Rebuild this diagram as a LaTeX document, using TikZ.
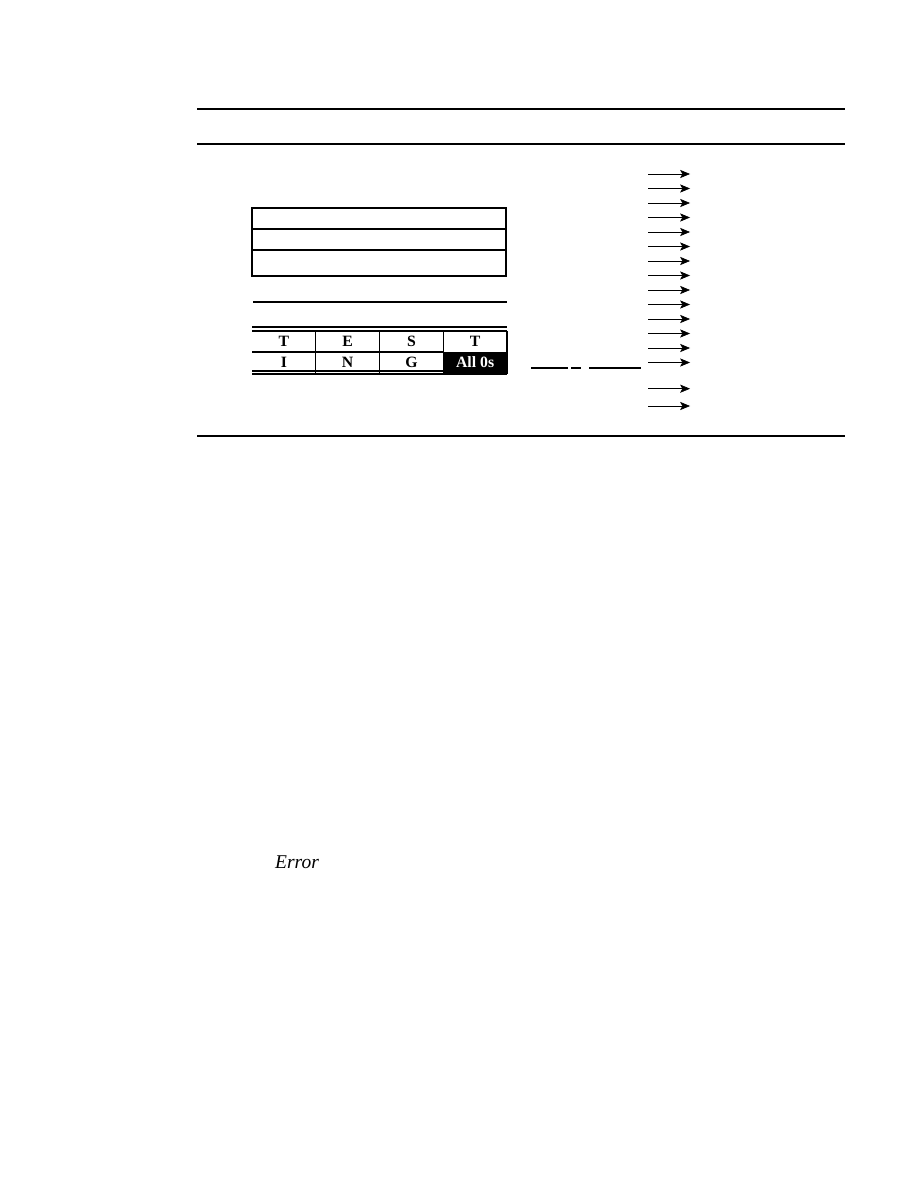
\documentclass[tikz,border=0pt]{standalone}
\usepackage{fontspec}
\setmainfont{Liberation Serif}
\usetikzlibrary{arrows.meta}
\usetikzlibrary{positioning}
\usetikzlibrary{math}
\tikzset{>={Stealth[length=2.3mm, width=1.9mm, inset=0.5mm]}}
\tikzset{
    rule/.style={line width=1.3pt},
    cell/.style={line width=0.7pt},
    letter/.style={font=\fontsize{10.5}{12}\selectfont\bfseries, inner sep=0pt},
}

\begin{document}
\begin{tikzpicture}[x=0.6667pt, y=-0.6667pt] % block of text, padding, output bits
	\useasboundingbox (0,0) rectangle (918,1188);
	\tikzmath{\l = 252; \r = 507; \w = 63.75;}
	% page rules
	\draw[rule] (197,109) -- (845,109);
	\draw[rule] (197,144) -- (845,144);
	\draw[rule] (197,436) -- (845,436);
	% upper box
	\draw[cell] (\l,208) rectangle (506,276);
	\draw[cell] (\l,229) -- (\r,229);
	\draw[cell] (\l,250) -- (\r,250);
	\draw[cell] (253,302) -- (\r,302);
	% padded block
	\draw[cell] (\l,327) -- (\r,327);
	\draw[cell] (\l,331) -- (\r,331);
	\draw[cell] (\l,352) -- (443,352);
	\draw[cell] (\l,371) -- (\r,371);
	\draw[cell] (\l,374) -- (\r,374);
	\fill (443,352) rectangle (\r,374);
	\foreach \i in {1,2,3,4}
	\draw[cell] ({\l+\i*\w},331) -- ({\l+\i*\w},374);
	\foreach \c/\t in {1/T,2/E,3/S,4/T}
	\node[letter] (top\c) at ({\l+(\c-0.5)*\w},341.5) {\t};
	\foreach \c/\t in {1/I,2/N,3/G}
	\node[letter] (bot\c) at ({\l+(\c-0.5)*\w},362) {\t};
	\node[letter, text=white] (zeros) at ({\l+3.5*\w},362) {All 0s};
	% broken line
	\draw[cell] (531,368) -- (568,368);
	\draw[cell] (571,368) -- (581,368);
	\draw[cell] (589,368) -- (641,368);
	% output bits
	\foreach \k in {0,...,13}
	\draw[->, thin] (648,{174+14.5*\k}) -- (690,{174+14.5*\k});
	\foreach \y in {388.7,406}
	\draw[->, thin] (648,\y) -- (690,\y);
	\node[font=\fontsize{13}{15}\selectfont\itshape] (err) at (297,862) {Error};
\end{tikzpicture}
\end{document}
